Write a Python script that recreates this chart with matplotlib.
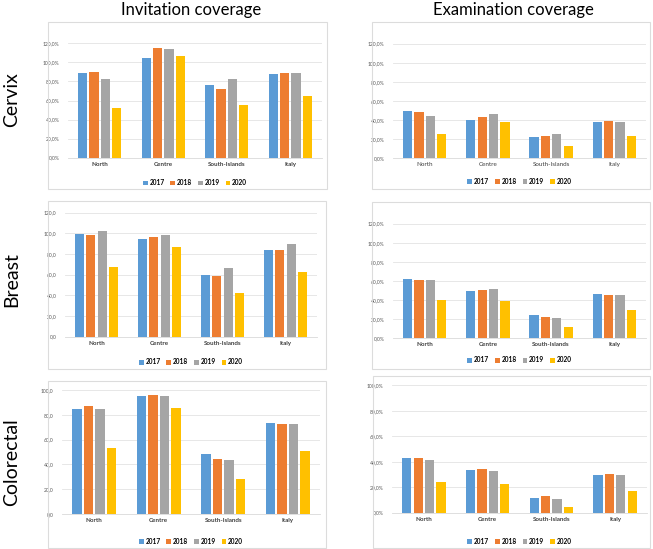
import matplotlib
matplotlib.use("Agg")
import matplotlib.pyplot as plt
from matplotlib.patches import Rectangle
import numpy as np

plt.rcParams['font.family'] = ['Lato', 'DejaVu Sans']

regions = ["North", "Centre", "South-Islands", "Italy"]
years = ["2017", "2018", "2019", "2020"]
colors = ["#5B9BD5", "#ED7D31", "#A5A5A5", "#FFC000"]

# values[year][region]
cervix_invitation = [
    [89.2, 104.6, 75.9, 87.5],
    [89.6, 114.8, 72.4, 88.9],
    [82.2, 113.7, 82.2, 88.9],
    [52.5, 106.4, 55.6, 64.4],
]
cervix_examination = [
    [49.0, 40.2, 22.0, 37.8],
    [48.0, 43.4, 22.7, 38.5],
    [44.4, 46.5, 25.5, 38.1],
    [24.8, 37.4, 12.2, 22.7],
]
breast_invitation = [
    [99.0, 94.2, 59.7, 84.2],
    [98.4, 96.1, 58.4, 84.2],
    [101.9, 98.7, 66.5, 89.4],
    [67.4, 86.8, 42.3, 62.9],
]
breast_examination = [
    [61.9, 49.7, 24.1, 45.8],
    [61.2, 50.7, 22.0, 45.1],
    [60.9, 51.4, 21.0, 45.1],
    [39.9, 38.5, 11.5, 29.7],
]
colorectal_invitation = [
    [84.9, 95.4, 48.4, 73.7],
    [86.8, 96.0, 44.1, 72.8],
    [84.4, 95.4, 43.3, 72.3],
    [53.5, 85.5, 28.0, 51.1],
]
colorectal_examination = [
    [42.7, 33.2, 11.3, 29.6],
    [42.9, 34.0, 12.8, 30.6],
    [41.6, 33.0, 11.0, 29.3],
    [23.8, 22.8, 4.2, 17.0],
]

column_titles = ["Invitation coverage", "Examination coverage"]
row_titles = ["Cervix", "Breast", "Colorectal"]

W, H = 653, 549
fig = plt.figure(figsize=(W / 100, H / 100), dpi=100)

def fx(x):
    return x / W

def fy(y):
    return 1 - y / H

panels = [
    # data, ymax, percent, frame(x0,y0,x1,y1), axes(x0,x1,ytop,ybottom), legend y, bold labels
    (cervix_invitation, 120, True, (48, 22, 327, 189), (68, 322, 43.3, 157.7), 183, True),
    (cervix_examination, 120, True, (372, 22, 650, 189), (393, 646, 43.7, 158), 181, False),
    (breast_invitation, 120, False, (48, 201, 326, 369), (65, 317, 212.7, 336.7), 362, True),
    (breast_examination, 120, True, (372, 202, 650, 369), (393, 646, 223.7, 338), 360, True),
    (colorectal_invitation, 100, False, (48, 381, 326, 548), (62, 320, 390, 514), 541, True),
    (colorectal_examination, 100, True, (373, 376, 650, 548), (392, 647, 385.3, 512.7), 541, True),
]

x = np.arange(len(regions))
pitch = 0.18
bw = 0.145

for data, ymax, pct, frame, axpos, legy, bold in panels:
    fx0, fy0, fx1, fy1 = frame
    fig.patches.append(Rectangle((fx(fx0), fy(fy1)), fx(fx1 - fx0), (fy1 - fy0) / H,
                                 transform=fig.transFigure, fill=False,
                                 edgecolor="#DCDCDC", linewidth=0.8))
    ax0, ax1, ayt, ayb = axpos
    ax = fig.add_axes([fx(ax0), fy(ayb), fx(ax1 - ax0), (ayb - ayt) / H])
    handles = []
    for i, yr in enumerate(years):
        b = ax.bar(x + (i - 1.5) * pitch, data[i], width=bw, color=colors[i], label=yr, zorder=3)
        handles.append(b)
    ax.set_xlim(-0.5, 3.5)
    ax.set_ylim(0, ymax)
    ticks = np.arange(0, ymax + 1, 20)
    ax.set_yticks(ticks)
    if pct:
        ax.set_yticklabels([f"{t:.1f}%".replace(".", ",") for t in ticks])
    else:
        ax.set_yticklabels([f"{t:.1f}".replace(".", ",") for t in ticks])
    ax.set_xticks(x)
    ax.set_xticklabels(regions, fontsize=4.5, fontweight="bold" if bold else "normal", color="#404040")
    ax.tick_params(axis="y", labelsize=3.6, colors="#595959", length=0, pad=6)
    ax.tick_params(axis="x", length=0, pad=3)
    ax.grid(axis="y", color="#E3E3E3", linewidth=0.6, zorder=0)
    for s in ["top", "right", "left"]:
        ax.spines[s].set_visible(False)
    ax.spines["bottom"].set_color("#D9D9D9")
    ax.spines["bottom"].set_linewidth(0.6)
    ax.set_facecolor("none")
    cx = fx((ax0 + ax1) / 2)
    fig.legend(handles=handles, labels=years, loc="center", bbox_to_anchor=(cx, fy(legy)),
               ncol=4, frameon=False, handlelength=0.7, handleheight=0.7,
               handletextpad=0.3, columnspacing=0.9, prop={"size": 4.7, "weight": "bold"})

fig.text(fx(191), fy(10), column_titles[0], ha="center", va="center", fontsize=12)
fig.text(fx(513), fy(10), column_titles[1], ha="center", va="center", fontsize=12)
for lab, yc in zip(row_titles, [100, 280, 462]):
    fig.text(fx(12), fy(yc), lab, ha="center", va="center", rotation=90, fontsize=14)

fig.savefig("out.png", dpi=100)
